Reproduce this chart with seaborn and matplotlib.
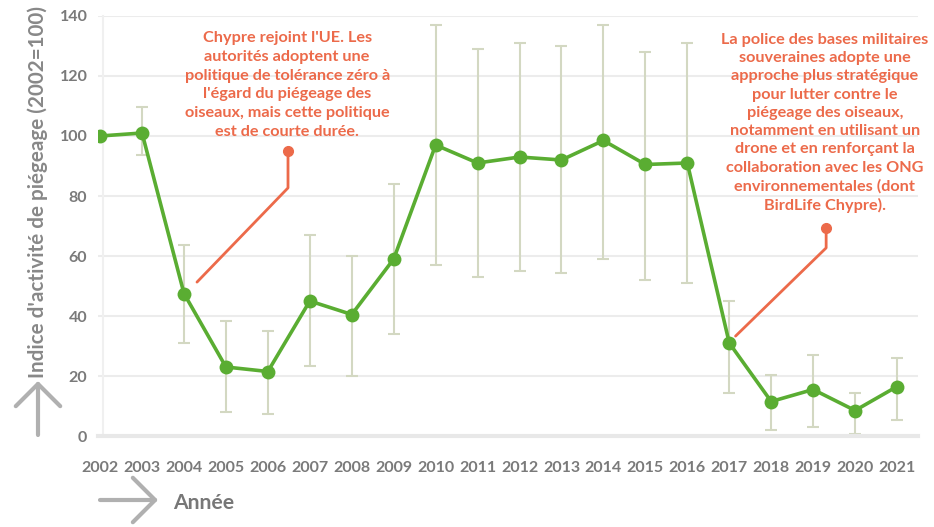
import matplotlib
matplotlib.use("Agg")
import matplotlib.pyplot as plt
import seaborn as sns
import pandas as pd
from matplotlib.patches import FancyArrowPatch

# Trapping activity index, 2002 = 100, with confidence bounds
years = list(range(2002, 2022))
index_values = [100, 101, 47.5, 23, 21.5, 45, 40.5, 59, 97, 91,
                93, 92, 98.5, 90.5, 91, 31, 11.5, 15.5, 8.5, 16.5]
lower_bound = [100, 93.5, 31, 8, 7.5, 23.5, 20, 34, 57, 53,
               55, 54.5, 59, 52, 51, 14.5, 2, 3, 0.8, 5.5]
upper_bound = [100, 109.5, 63.5, 38.5, 35, 67, 60, 84, 137, 129,
               131, 130, 137, 128, 131, 45, 20.5, 27, 14.5, 26]

y_ticks = [0, 20, 40, 60, 80, 100, 120, 140]

note_eu = ("Chypre rejoint l'UE. Les\nautorités adoptent une\npolitique de tolérance zéro à\n"
           "l'égard du piégeage des\noiseaux, mais cette politique\nest de courte durée.")
note_sba = ("La police des bases militaires\nsouveraines adopte une\napproche plus stratégique\n"
            "pour lutter contre le\npiégeage des oiseaux,\nnotamment en utilisant un\n"
            "drone et en renforçant la\ncollaboration avec les ONG\nenvironnementales (dont\n"
            "BirdLife Chypre).")

df = pd.DataFrame({"year": years, "index": index_values,
                   "lo": lower_bound, "hi": upper_bound})

sns.set_theme(style="white")
plt.rcParams["font.family"] = ["Lato", "DejaVu Sans"]

GREEN = "#5aad32"
ERR = "#d3d8c2"
ORANGE = "#ec6a4a"
GREY_TXT = "#7a7a7a"
GRID = "#ececec"

fig = plt.figure(figsize=(9.34, 5.27), dpi=100)
ax = fig.add_axes([98 / 934, 91 / 527, 820 / 934, 420 / 527])

# confidence bounds
ax.errorbar(df["year"], df["index"],
            yerr=[df["index"] - df["lo"], df["hi"] - df["index"]],
            fmt="none", ecolor=ERR, elinewidth=1.5, capsize=4, capthick=1.5, zorder=2)

sns.lineplot(data=df, x="year", y="index", ax=ax, color=GREEN, linewidth=2.6,
             marker="o", markersize=10, markeredgewidth=0, zorder=3)

ax.set_xlim(2001.95, 2021.5)
ax.set_ylim(0, 140)
ax.set_yticks(y_ticks)
ax.set_xticks(years)
ax.set_xticklabels([str(y) for y in years])
ax.set_xlabel("")
ax.set_ylabel("")

ax.grid(axis="y", color=GRID, linewidth=1.5)
ax.set_axisbelow(True)
for side in ["top", "right"]:
    ax.spines[side].set_visible(False)
ax.spines["left"].set_color("#f0f0f0")
ax.spines["left"].set_linewidth(1.5)
ax.spines["left"].set_position(("data", 2002.06))
ax.spines["bottom"].set_color("#e8e8e8")
ax.spines["bottom"].set_linewidth(3)

ax.tick_params(axis="x", colors="#e3e3e3", length=4, width=1, pad=14,
               labelcolor=GREY_TXT, labelsize=11.5)
ax.tick_params(axis="y", colors="#e3e3e3", length=4, width=1, pad=7,
               labelcolor=GREY_TXT, labelsize=11.5)
for lab in ax.get_xticklabels() + ax.get_yticklabels():
    lab.set_fontweight("bold")

# annotations
ax.text(2006.46, 117, note_eu, ha="center", va="center", color=ORANGE,
        fontsize=11.7, fontweight="bold", linespacing=1.43, zorder=4)
ax.plot([2004.31, 2006.48, 2006.48], [51.3, 82.7, 95], color=ORANGE, lw=2, zorder=4,
        solid_capstyle="round")
ax.plot([2006.48], [95], "o", color=ORANGE, markersize=7, zorder=4)

ax.text(2019.28, 104.3, note_sba, ha="center", va="center", color=ORANGE,
        fontsize=11.7, fontweight="bold", linespacing=1.39, zorder=4)
ax.plot([2017.15, 2019.31, 2019.31], [33.3, 62.7, 69.3], color=ORANGE, lw=2, zorder=4,
        solid_capstyle="round")
ax.plot([2019.31], [69.3], "o", color=ORANGE, markersize=7, zorder=4)

# axis titles with arrows
fig.text(38 / 934, 1 - 192 / 527, "Indice d'activité de piégeage (2002=100)",
         rotation=90, ha="center", va="center", color="#888888",
         fontsize=14.9, fontweight="bold")
fig.text(173 / 934, 1 - 503 / 527, "Année", ha="left", va="center",
         color="#777777", fontsize=15.2, fontweight="bold")

arrow_kw = dict(transform=fig.transFigure, color="#b0b0b0", lw=3,
                arrowstyle="->,head_length=1.6,head_width=1.6", mutation_scale=10,
                shrinkA=0, shrinkB=0)
fig.patches.append(FancyArrowPatch((38 / 934, 1 - 435 / 527), (38 / 934, 1 - 381 / 527), **arrow_kw))
fig.patches.append(FancyArrowPatch((100 / 934, 1 - 500 / 527), (158 / 934, 1 - 500 / 527), **arrow_kw))

fig.savefig("out.png", dpi=100)
